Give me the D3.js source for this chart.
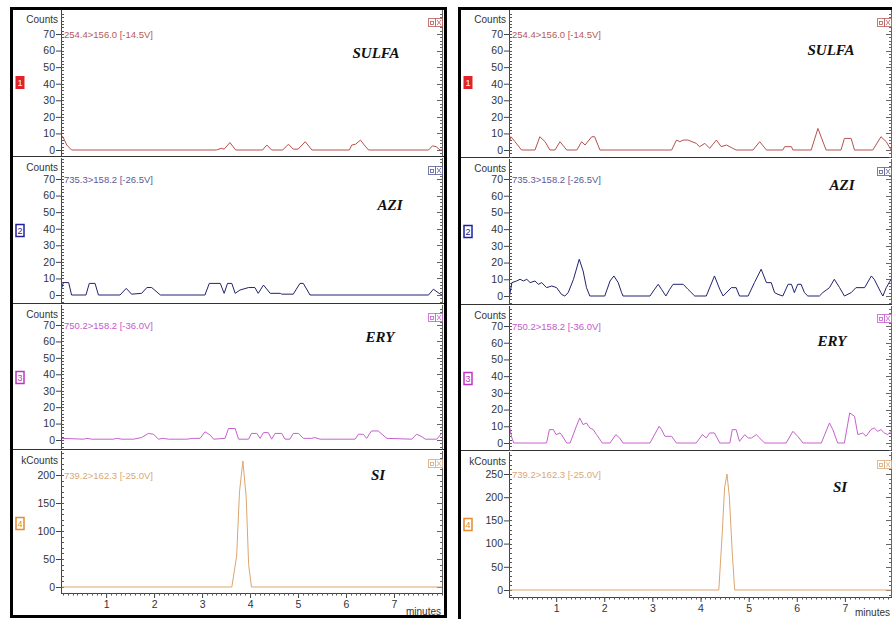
<!DOCTYPE html>
<html>
<head>
<meta charset="utf-8">
<script src="https://cdnjs.cloudflare.com/ajax/libs/d3/7.8.5/d3.min.js"></script>
<style>
  body { margin: 0; background: #fff; }
  svg text { font-family: "Liberation Sans", Arial, sans-serif; }
  svg text.compound { font-family: "Liberation Serif", "Times New Roman", serif; font-weight: bold; font-style: italic; }
</style>
</head>
<body>
<svg id="chart" width="892" height="619"></svg>
<script>
// channel labels, compound names, axis ticks
var transitions = ["254.4>156.0 [-14.5V]", "735.3>158.2 [-26.5V]", "750.2>158.2 [-36.0V]", "739.2>162.3 [-25.0V]"];
var compounds = ["SULFA", "AZI", "ERY", "SI"];
var units = ["Counts", "Counts", "Counts", "kCounts"];
var channelNo = ["1", "2", "3", "4"];
var minuteTicks = [1, 2, 3, 4, 5, 6, 7];
var countTicks = [0, 10, 20, 30, 40, 50, 60, 70];
var siTicksLeft = [0, 50, 100, 150, 200];
var siTicksRight = [0, 50, 100, 150, 200, 250];

// left run: [minutes, signal]
var sulfaLeft = [[0.06,9],[0.1,8],[0.18,3],[0.28,0],[3.30,0],[3.40,1],[3.46,0.5],[3.58,4.5],[3.70,0],[4.26,0],[4.35,3],[4.45,0],[4.68,0],[4.80,3.5],[4.90,0.5],[5.0,0.5],[5.15,5],[5.29,0],[6.07,0],[6.12,3],[6.2,3.5],[6.3,6],[6.38,3],[6.47,0],[7.72,0],[7.8,2.5],[7.88,2],[7.96,0],[8.0,0]];
var aziLeft = [[0.06,3],[0.11,7.5],[0.22,7.5],[0.28,0],[0.58,0],[0.65,7],[0.77,7],[0.84,0],[1.29,0],[1.42,4],[1.53,0.5],[1.74,1],[1.85,4.5],[1.95,4.5],[2.13,0],[3.06,0],[3.15,7],[3.38,7],[3.46,1],[3.53,7],[3.62,7],[3.69,1],[3.79,3],[3.97,4.5],[4.10,4.5],[4.17,1],[4.28,6],[4.42,1],[4.63,1],[4.66,0.5],[4.90,0.5],[5.04,7],[5.11,7],[5.25,0],[7.72,0],[7.82,3.5],[7.94,1],[8.0,0]];
var eryLeft = [[0.06,1],[0.53,0.5],[0.60,1],[0.70,0.5],[1.15,0.5],[1.22,1],[1.33,0.5],[1.57,0.5],[1.74,1.5],[1.88,4],[1.99,3.5],[2.09,0.5],[2.19,1],[2.30,0.5],[2.68,0.5],[2.82,1],[2.96,1],[3.06,5],[3.17,3],[3.24,0.5],[3.48,1],[3.55,7],[3.69,7],[3.76,0.5],[3.97,0.5],[4.03,4],[4.14,4],[4.21,1],[4.28,4.5],[4.38,4.5],[4.45,0.5],[4.52,4],[4.66,4],[4.73,0.5],[4.83,0.5],[4.90,4],[5.01,4],[5.11,1],[5.28,1],[5.35,1.5],[5.46,0.5],[6.19,0.5],[6.26,3.5],[6.36,3.5],[6.43,1],[6.53,5.5],[6.67,5.5],[6.85,1],[7.37,0.5],[7.47,3.5],[7.58,2],[7.65,0.5],[7.89,0.5],[7.99,4]];
var siLeft = [[0.06,0],[3.62,0],[3.72,55],[3.78,170],[3.85,225],[3.92,160],[3.97,40],[4.03,0],[8.0,0]];

// right run
var sulfaRight = [[0.03,5],[0.06,8],[0.145,5],[0.28,0],[0.56,0],[0.66,8],[0.77,5],[0.87,0],[0.975,0],[1.08,5],[1.22,0],[1.43,0],[1.53,5],[1.60,3],[1.74,8],[1.80,8],[1.91,0],[3.40,0],[3.50,6],[3.57,5],[3.64,6],[3.74,6],[3.91,4],[3.98,2],[4.09,4],[4.19,1],[4.33,6],[4.43,2],[4.54,3],[4.67,1],[4.74,0],[5.09,0],[5.23,5],[5.37,0],[5.71,0],[5.75,2],[5.89,2],[5.92,0],[6.30,0],[6.44,13],[6.61,0],[6.92,0],[6.99,7],[7.13,7],[7.20,0],[7.58,0],[7.75,8],[7.86,5],[7.96,0]];
var aziRight = [[0.03,0],[0.08,8],[0.18,9],[0.25,10],[0.32,9],[0.39,10],[0.46,8],[0.56,9],[0.63,7],[0.70,8],[0.80,5],[0.91,6],[1.01,5],[1.11,1],[1.18,0],[1.25,2],[1.36,10],[1.48,22],[1.56,15],[1.63,5],[1.70,0],[2.01,0],[2.12,9],[2.20,12],[2.29,8],[2.36,2],[2.39,0],[2.95,0],[3.02,3],[3.12,7],[3.19,4],[3.28,0],[3.36,4],[3.43,7],[3.64,7],[3.74,4],[3.88,0],[4.12,0],[4.29,12],[4.40,4],[4.47,0],[4.64,5],[4.74,5],[4.81,0],[4.99,0],[5.12,8],[5.26,16],[5.37,8],[5.47,8],[5.54,2],[5.61,1],[5.71,0],[5.82,7],[5.89,7],[5.95,2],[6.02,7],[6.09,7],[6.16,2],[6.23,0],[6.47,0],[6.54,2],[6.68,5],[6.78,10],[6.89,5],[6.99,0],[7.13,2],[7.23,5],[7.41,5],[7.55,12],[7.61,10],[7.75,2],[7.79,0],[7.86,5],[7.96,10]];
var eryRight = [[0.03,10],[0.08,3],[0.12,0],[0.80,0],[0.86,8],[0.94,8],[1.00,5],[1.08,6],[1.11,5],[1.22,0],[1.29,0],[1.42,10],[1.49,15],[1.56,11],[1.63,12],[1.70,9],[1.77,8],[1.84,5],[1.96,0],[2.12,0],[2.24,5],[2.32,3],[2.39,0],[2.95,0],[3.14,10],[3.19,8],[3.26,4],[3.40,4],[3.50,0],[3.91,0],[4.04,5],[4.12,3],[4.19,6],[4.29,6],[4.40,0],[4.61,0],[4.66,8],[4.74,8],[4.81,1],[4.92,5],[4.99,3],[5.06,3],[5.16,5],[5.23,3],[5.33,0],[5.78,0],[5.92,7],[6.02,4],[6.13,0],[6.51,0],[6.68,12],[6.75,8],[6.85,0],[6.99,0],[7.10,18],[7.20,16],[7.27,5],[7.37,6],[7.44,4],[7.54,8],[7.61,9],[7.68,7],[7.75,8],[7.82,6],[7.89,5],[7.96,7]];
var siRight = [[0.03,0],[4.38,0],[4.45,120],[4.50,220],[4.55,250],[4.60,200],[4.66,80],[4.71,0],[8.0,0]];

var traceColors = ["#b9504c", "#22226e", "#c462cc", "#dba66f"];
var labelColors = ["#b75a56", "#5a5a94", "#c55acb", "#d9a877"];
var boxColors = ["#e0232b", "#2020a0", "#c034c4", "#e58a2e"];

var leftRun = {
  frame: [11.5, 8.5, 434, 608],
  axisX: 61, rightX: 442, xRange: [61, 442], xDomain: [0.06, 8],
  tops: [8, 156, 303, 449], bottom: 593, minutesY: 615,
  zero: [150, 295, 440, 587], full: [34, 179, 325, 475],
  nameX: [376, 390, 380, 378], nameY: [58, 210, 342, 480]
};
var rightRun = {
  frame: [459.5, 8.5, 460, 620],
  axisX: 509, rightX: 891, xRange: [509, 893], xDomain: [0.02, 8],
  tops: [8, 157, 304, 450], bottom: 597, minutesY: 616,
  zero: [150, 296, 443, 590], full: [34, 179, 326, 474],
  nameX: [831, 842, 832, 840], nameY: [55, 190, 346, 492]
};

var svg = d3.select("#chart");
svg.append("rect").attr("width", 892).attr("height", 619).attr("fill", "#fff");

function drawRun(L, traces, siTicks, id) {
  var x = d3.scaleLinear().domain(L.xDomain).range(L.xRange);
  var g = svg.append("g");

  traces.forEach(function(data, i) {
    var top = L.tops[i];
    var bot = i < 3 ? L.tops[i + 1] : L.bottom;
    var ticks = i < 3 ? countTicks : siTicks;
    var y = d3.scaleLinear().domain([0, ticks[ticks.length - 1]]).range([L.zero[i], L.full[i]]);
    var step = (ticks[1] - ticks[0]) / 5;

    // separator under the panel
    if (i < 3) {
      g.append("line")
        .attr("x1", L.frame[0]).attr("x2", L.frame[0] + L.frame[2])
        .attr("y1", bot + 0.5).attr("y2", bot + 0.5)
        .attr("stroke", "#333").attr("stroke-width", 1);
    }

    // left axis
    var ya = g.append("g")
      .attr("transform", "translate(" + L.axisX + ",0)")
      .call(d3.axisLeft(y).tickValues(ticks).tickSize(5).tickPadding(1).tickSizeOuter(0));
    ya.select(".domain").remove();
    ya.selectAll("text").attr("font-size", 10.5).attr("fill", "#333");
    ya.selectAll("line").attr("stroke", "#444");

    g.append("line")
      .attr("x1", L.axisX + 0.5).attr("x2", L.axisX + 0.5)
      .attr("y1", top + 2).attr("y2", bot)
      .attr("stroke", "#444");

    var minor = d3.range(Math.ceil(y.invert(bot) / step) * step, y.invert(top + 3), step);
    g.selectAll(null).data(minor).enter().append("line")
      .attr("x1", L.axisX).attr("x2", L.axisX + 3)
      .attr("y1", function(d) { return Math.round(y(d)) + 0.5; })
      .attr("y2", function(d) { return Math.round(y(d)) + 0.5; })
      .attr("stroke", "#555");

    // right axis
    g.append("line")
      .attr("x1", L.rightX + 0.5).attr("x2", L.rightX + 0.5)
      .attr("y1", top + 2).attr("y2", bot)
      .attr("stroke", "#666");
    g.selectAll(null).data(minor).enter().append("line")
      .attr("x1", function(d) { return L.rightX - (ticks.indexOf(Math.round(d * 100) / 100) >= 0 ? 5 : 2); })
      .attr("x2", L.rightX)
      .attr("y1", function(d) { return Math.round(y(d)) + 0.5; })
      .attr("y2", function(d) { return Math.round(y(d)) + 0.5; })
      .attr("stroke", "#666");

    // unit label
    g.append("text")
      .attr("x", L.axisX - 3).attr("y", top + 15)
      .attr("text-anchor", "end").attr("font-size", 10).attr("fill", "#333")
      .text(units[i]);

    // channel number box
    var bx = L.frame[0] + 4, by = top + 68;
    g.append("rect")
      .attr("x", bx + 0.5).attr("y", by + 0.5).attr("width", 8).attr("height", 12)
      .attr("fill", i == 0 ? boxColors[i] : "#fff")
      .attr("stroke", boxColors[i]).attr("stroke-width", i == 0 ? 1 : 1.5);
    g.append("text")
      .attr("x", bx + 4.5).attr("y", by + 10)
      .attr("text-anchor", "middle").attr("font-size", 9)
      .attr("fill", i == 0 ? "#fff" : boxColors[i])
      .text(channelNo[i]);

    // little window icons
    var ix = L.rightX - 14, iy = top + 10;
    g.append("rect").attr("x", ix + 0.5).attr("y", iy + 0.5).attr("width", 7).attr("height", 8)
      .attr("fill", "#fff").attr("stroke", labelColors[i]).attr("stroke-opacity", 0.8);
    g.append("rect").attr("x", ix + 2.5).attr("y", iy + 3.5).attr("width", 3).attr("height", 3)
      .attr("fill", "none").attr("stroke", labelColors[i]).attr("stroke-width", 0.8);
    g.append("rect").attr("x", ix + 7.5).attr("y", iy + 0.5).attr("width", 7).attr("height", 8)
      .attr("fill", "#fff").attr("stroke", labelColors[i]).attr("stroke-opacity", 0.8);
    g.append("path")
      .attr("d", "M" + (ix + 9) + "," + (iy + 2) + "L" + (ix + 13) + "," + (iy + 7) +
                 "M" + (ix + 13) + "," + (iy + 2) + "L" + (ix + 9) + "," + (iy + 7))
      .attr("stroke", labelColors[i]).attr("stroke-width", 0.8);

    // trace
    var clip = id + "clip" + i;
    svg.append("clipPath").attr("id", clip).append("rect")
      .attr("x", L.axisX + 1).attr("y", top + 1)
      .attr("width", L.rightX - L.axisX - 1).attr("height", bot - top - 1);
    var line = d3.line()
      .x(function(d) { return x(d[0]); })
      .y(function(d) { return y(d[1]); });
    g.append("path")
      .datum(data)
      .attr("clip-path", "url(#" + clip + ")")
      .attr("d", line)
      .attr("fill", "none")
      .attr("stroke", traceColors[i])
      .attr("stroke-width", 1);

    // transition label
    g.append("text")
      .attr("x", L.axisX + 3).attr("y", L.full[i] + 4)
      .attr("font-size", 9.5).attr("fill", labelColors[i])
      .text(transitions[i]);

    // compound name
    g.append("text")
      .attr("class", "compound")
      .attr("x", L.nameX[i]).attr("y", L.nameY[i])
      .attr("text-anchor", "middle")
      .attr("font-size", 15).attr("fill", "#111")
      .text(compounds[i]);
  });

  // time axis
  var xa = g.append("g")
    .attr("transform", "translate(0," + L.bottom + ")")
    .call(d3.axisBottom(x).tickValues(minuteTicks).tickSize(5).tickPadding(3).tickSizeOuter(0));
  xa.select(".domain").remove();
  xa.selectAll("text").attr("font-size", 10.5).attr("fill", "#333");
  xa.selectAll("line").attr("stroke", "#444");
  g.append("line")
    .attr("x1", L.axisX).attr("x2", L.rightX + 1)
    .attr("y1", L.bottom + 0.5).attr("y2", L.bottom + 0.5)
    .attr("stroke", "#444");
  var minorX = d3.range(0.1, 8.01, 0.1).filter(function(d) { return d >= L.xDomain[0]; });
  g.selectAll(null).data(minorX).enter().append("line")
    .attr("x1", function(d) { return Math.round(x(d)) + 0.5; })
    .attr("x2", function(d) { return Math.round(x(d)) + 0.5; })
    .attr("y1", L.bottom).attr("y2", L.bottom + 2.5)
    .attr("stroke", "#555");
  g.append("text")
    .attr("x", L.rightX - 1).attr("y", L.minutesY)
    .attr("text-anchor", "end").attr("font-size", 10).attr("fill", "#333")
    .text("minutes");

  // outer frame
  g.append("rect")
    .attr("x", L.frame[0]).attr("y", L.frame[1])
    .attr("width", L.frame[2]).attr("height", L.frame[3])
    .attr("fill", "none").attr("stroke", "#000").attr("stroke-width", 3);
}

drawRun(leftRun, [sulfaLeft, aziLeft, eryLeft, siLeft], siTicksLeft, "l");
drawRun(rightRun, [sulfaRight, aziRight, eryRight, siRight], siTicksRight, "r");
</script>
</body>
</html>
